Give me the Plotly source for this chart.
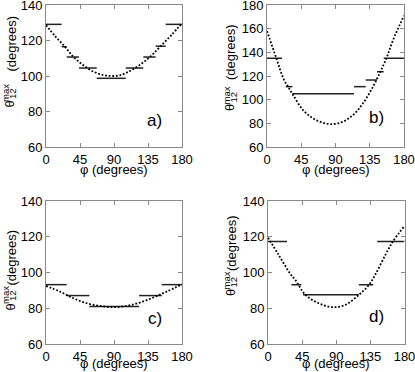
import plotly.graph_objects as go

# dotted curves (phi in degrees, theta12 max in degrees)
phi_a = [0, 12, 25, 36, 49, 63, 76, 87, 98, 109, 124, 138, 151, 166, 180]
theta_a = [128.7, 122.5, 116.5, 110.9, 106.2, 102.4, 100.6, 100.0, 100.4, 102.4, 106.2, 110.9, 116.5, 123.1, 129.7]

phi_b = [0, 12.3, 21.9, 27.6, 34.2, 47.3, 60.4, 73.6, 86.7, 99.9, 113, 126.1, 139.3, 148, 156.9, 165.6, 180]
theta_b = [158, 134.9, 117.4, 111, 104, 91.2, 84.2, 80.5, 79.4, 81.4, 87, 96.9, 111, 122.3, 135, 150.4, 171]

phi_c = [0, 18.5, 36.1, 53.8, 71.5, 89.1, 106.7, 124.4, 142, 159.7, 180]
theta_c = [92.5, 89.3, 85.6, 82.8, 81.3, 80.6, 81.3, 83.2, 86.0, 89.3, 93.4]

phi_d = [0, 14.1, 29.5, 36, 49.3, 66.9, 84.5, 102.1, 119.8, 133, 141.7, 155, 164.6, 180]
theta_d = [119.5, 109.8, 99.2, 95.9, 87.5, 82.8, 80.6, 81.9, 87.5, 93, 99, 110, 117.3, 126]

# horizontal steps
step_start_a = [0, 20.7, 27.4, 43.7, 67.1, 105.5, 128.8, 145.1, 158.4]
step_end_a = [20.7, 27.4, 43.7, 67.1, 105.5, 128.8, 145.1, 158.4, 180]
step_val_a = [129.1, 116.5, 110.7, 104.5, 98.7, 104.5, 110.7, 116.8, 129.1]

step_start_b = [0, 24.6, 33.4, 114.3, 129.7, 144.5, 153.3]
step_end_b = [19.7, 33.4, 114.3, 129.7, 144.5, 153.3, 180]
step_val_b = [135, 111, 105, 111, 116.6, 123.6, 135]

step_start_c = [0, 27.4, 57.4, 123.2, 153.2]
step_end_c = [27.4, 57.4, 123.2, 153.2, 180]
step_val_c = [93.2, 87.1, 81.0, 87.1, 93.2]

step_start_d = [0, 30.8, 46.2, 119.8, 144]
step_end_d = [25.1, 44, 119.8, 138.7, 180]
step_val_d = [117.3, 93.2, 87.5, 93.2, 117.3]

x_ticks = [0, 45, 90, 135, 180]
panel_labels = ["a)", "b)", "c)", "d)"]

W, H = 415, 372
FONT = "Liberation Sans, Arial, sans-serif"

panels = [
    dict(phi=phi_a, th=theta_a, s=step_start_a, e=step_end_a, v=step_val_a,
         box=(46, 182, 5, 147), yr=(60, 140), lab=(0.87, 0.105),
         ttl=(10.5, 44, 104, 93), xt=169),
    dict(phi=phi_b, th=theta_b, s=step_start_b, e=step_end_b, v=step_val_b,
         box=(267, 404, 5, 147), yr=(60, 180), lab=(0.872, 0.127),
         ttl=(231, 52, 108, 96), xt=169),
    dict(phi=phi_c, th=theta_c, s=step_start_c, e=step_end_c, v=step_val_c,
         box=(46, 182, 201, 344), yr=(60, 140), lab=(0.864, 0.10),
         ttl=(10.5, 258, 307, 295), xt=363),
    dict(phi=phi_d, th=theta_d, s=step_start_d, e=step_end_d, v=step_val_d,
         box=(268, 404.5, 201, 344), yr=(60, 140), lab=(0.868, 0.115),
         ttl=(231, 243, 293, 281), xt=363),
]

fig = go.Figure()
annotations = []
for i, p in enumerate(panels):
    n = "" if i == 0 else str(i + 1)
    xa, ya = "x" + n, "y" + n
    sx, sy = [], []
    for a, b, v in zip(p["s"], p["e"], p["v"]):
        sx += [a, b, None]
        sy += [v, v, None]
    fig.add_trace(go.Scatter(x=sx, y=sy, mode="lines", xaxis=xa, yaxis=ya,
                             line=dict(color="#222222", width=1.5), showlegend=False))
    fig.add_trace(go.Scatter(x=p["phi"], y=p["th"], mode="lines", xaxis=xa, yaxis=ya,
                             line=dict(color="black", width=1.8, dash="1.8px,1.8px", shape="spline"),
                             showlegend=False))

    l, r, t, b = p["box"]
    common = dict(automargin=False, showline=True, mirror="ticks", linecolor="#8a8a8a", linewidth=1,
                  ticks="inside", ticklen=4, tickcolor="#8a8a8a", showgrid=False, zeroline=False,
                  ticklabeloverflow="allow", tickfont=dict(family=FONT, size=13, color="black"))
    ax = dict(domain=[l / W, r / W], range=[0, 180], tickvals=x_ticks, anchor=ya, **common)
    ay = dict(domain=[(H - b) / H, (H - t) / H], range=list(p["yr"]), dtick=20, anchor=xa, **common)
    fig.update_layout(**{"xaxis" + n: ax, "yaxis" + n: ay})

    annotations.append(dict(text=panel_labels[i], x=p["lab"][0], y=p["lab"][1],
                            xref=xa + " domain", yref=ya + " domain", showarrow=False,
                            font=dict(family=FONT, size=17, color="black")))
    # x title
    annotations.append(dict(text="φ (degrees)", x=(l + r) / 2 / W, y=(H - p["xt"]) / H,
                            xref="paper", yref="paper", showarrow=False,
                            xanchor="center", yanchor="middle",
                            font=dict(family=FONT, size=13, color="black")))
    # y title: theta with stacked max / 12
    tx, yd, yt, ys = p["ttl"]
    for txt, px, py, sz in [("(degrees)", tx, yd, 13), ("θ", tx - 1, yt, 13),
                            ("max", tx - 5.5, ys, 9.5), ("12", tx + 1.5, ys + 1, 9.5)]:
        annotations.append(dict(text=txt, x=px / W, y=(H - py) / H, xref="paper", yref="paper",
                                textangle=-90, showarrow=False, xanchor="center", yanchor="middle",
                                font=dict(family=FONT, size=sz, color="black")))

fig.update_layout(width=W, height=H, margin=dict(l=0, r=0, t=0, b=0),
                  plot_bgcolor="white", paper_bgcolor="white", annotations=annotations)
fig.write_html("out.html", config={"displayModeBar": False},
               post_script="document.body.style.margin='0';")
